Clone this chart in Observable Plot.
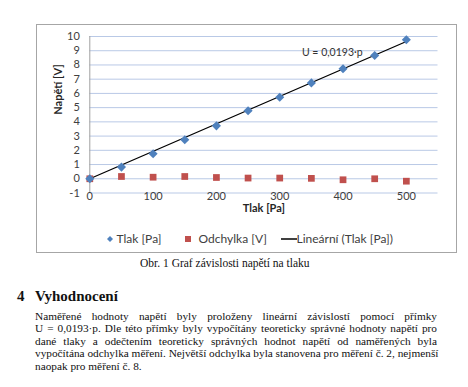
<!DOCTYPE html>
<html>
<head>
<meta charset="utf-8">
<script src="https://cdn.jsdelivr.net/npm/d3@7"></script>
<script src="https://cdn.jsdelivr.net/npm/@observablehq/plot@0.6"></script>
<style>
  html, body { margin: 0; padding: 0; background: #fff; }
  body { width: 468px; height: 387px; position: relative; overflow: hidden; }
  #box { position: absolute; left: 36px; top: 24px; width: 419px; height: 227px; border: 1px solid #a6a6a6; background: #fff; }
  #chart { position: absolute; left: 0; top: 0; }
  #legend { position: absolute; left: 0; top: 206px; width: 419px; height: 16px; font-family: Lato, sans-serif; font-size: 12px; color: #404040; }
  #legend span.t { position: absolute; top: 0; line-height: 16px; white-space: nowrap; }
  #legend svg { position: absolute; top: 0; }
  #caption { position: absolute; left: 140px; top: 257px; font-family: "Liberation Serif", serif; font-size: 11.5px; color: #111; white-space: nowrap; }
  #heading { position: absolute; left: 0; top: 288px; font-family: "Liberation Serif", serif; font-weight: bold; font-size: 15px; color: #111; }
  #para { position: absolute; left: 35px; top: 309.5px; width: 402px; font-family: "Liberation Serif", serif; font-size: 11.3px; line-height: 12.5px; color: #111; }
  #para div { text-align: justify; text-align-last: justify; white-space: nowrap; }
  #para div.last { text-align-last: left; }
</style>
</head>
<body>
<div id="box">
  <div id="chart"></div>
  <div id="legend"></div>
</div>
<div id="caption"></div>
<div id="heading"></div>
<div id="para"></div>
<script>
// ---- data ----
const pressures = [0, 50, 100, 150, 200, 250, 300, 350, 400, 450, 500];
const voltages = [0, 0.82, 1.76, 2.74, 3.72, 4.78, 5.73, 6.74, 7.73, 8.66, 9.77];
const deviations = [0, 0.16, 0.11, 0.16, 0.09, 0.05, 0.05, 0.03, -0.07, 0.0, -0.17];
const slope = 0.0193;
const xTicks = [0, 100, 200, 300, 400, 500];
const yTicks = [-1, 0, 1, 2, 3, 4, 5, 6, 7, 8, 9, 10];
const xTitle = "Tlak [Pa]";
const yTitle = "Napětí [V]";
const equationLabel = "U = 0,0193·p";
const equationAnchor = [383, 8.87];
const seriesNames = ["Tlak [Pa]", "Odchylka [V]", "Lineární (Tlak [Pa])"];
const captionText = "Obr. 1 Graf závislosti napětí na tlaku";
const headingNumber = "4";
const headingText = "Vyhodnocení";
const paragraphLines = [
  "Naměřené hodnoty napětí byly proloženy lineární závislostí pomocí přímky",
  "U = 0,0193·p. Dle této přímky byly vypočítány teoreticky správné hodnoty napětí pro",
  "dané tlaky a odečtením teoreticky správných hodnot napětí od naměřených byla",
  "vypočítána odchylka měření. Největší odchylka byla stanovena pro měření č. 2, nejmenší",
  "naopak pro měření č. 8."
];

const blue = "#4f81bd", red = "#c0504d";
const measured = pressures.map((p, i) => ({p, u: voltages[i]}));
const devs = pressures.map((p, i) => ({p, d: deviations[i]}));
const fitLine = [pressures[0], pressures[pressures.length - 1]].map(p => ({p, u: slope * p}));

const chart = Plot.plot({
  width: 419,
  height: 197,
  marginLeft: 52.3,
  marginRight: 18.5,
  marginTop: 11,
  marginBottom: 29.5,
  style: {fontFamily: "Lato, sans-serif", fontSize: "11px", color: "#404040", background: "white", overflow: "visible"},
  x: {domain: [0, 550]},
  y: {domain: [-1, 10]},
  marks: [
    Plot.gridY(yTicks, {stroke: "#b9c9e6", strokeOpacity: 1, strokeWidth: 1}),
    Plot.ruleX([0], {stroke: "#a0a0a0", strokeWidth: 1}),
    Plot.axisX(xTicks, {anchor: "bottom", tickSize: 0, tickPadding: -1, label: null, fill: "#404040", tickFormat: d => String(d)}),
    Plot.axisY(yTicks, {anchor: "left", tickSize: 0, tickPadding: 10, label: null, fill: "#404040", tickFormat: d => String(d)}),
    Plot.text([xTitle], {frameAnchor: "bottom", dy: 18.5, fontWeight: "bold", fontSize: 11, fill: "#262626"}),
    Plot.text([yTitle], {frameAnchor: "left", rotate: -90, dx: -31.3, fontWeight: "bold", fontSize: 11, fill: "#262626"}),
    Plot.line(fitLine, {x: "p", y: "u", stroke: "black", strokeWidth: 1.3}),
    Plot.dot(devs, {x: "p", y: "d", symbol: "square", r: 3.8, fill: red, stroke: "none"}),
    Plot.dot(measured, {x: "p", y: "u", symbol: "diamond2", r: 4.1, fill: blue, stroke: "none"}),
    Plot.text([equationLabel], {x: () => equationAnchor[0], y: () => equationAnchor[1], fill: "#333", fontSize: 10.5})
  ]
});
document.getElementById("chart").appendChild(chart);

// legend
const legend = document.getElementById("legend");
const legendItems = [
  {marker: "diamond", mx: 72.5, tx: 79.5},
  {marker: "square", mx: 150.5, tx: 161.5},
  {marker: "line", mx: 251.5, tx: 259.5}
];
legendItems.forEach((it, i) => {
  const ns = "http://www.w3.org/2000/svg";
  const s = document.createElementNS(ns, "svg");
  s.setAttribute("width", 20); s.setAttribute("height", 16);
  s.style.left = (it.mx - 10) + "px";
  let el;
  if (it.marker === "diamond") {
    el = document.createElementNS(ns, "path");
    el.setAttribute("d", "M10,5 L13,8 L10,11 L7,8 Z"); el.setAttribute("fill", blue);
  } else if (it.marker === "square") {
    el = document.createElementNS(ns, "rect");
    el.setAttribute("x", 7); el.setAttribute("y", 5); el.setAttribute("width", 6); el.setAttribute("height", 6); el.setAttribute("fill", red);
  } else {
    el = document.createElementNS(ns, "line");
    el.setAttribute("x1", 2); el.setAttribute("x2", 18); el.setAttribute("y1", 8); el.setAttribute("y2", 8);
    el.setAttribute("stroke", "black"); el.setAttribute("stroke-width", 1.5);
  }
  s.appendChild(el);
  legend.appendChild(s);
  const t = document.createElement("span");
  t.className = "t"; t.textContent = seriesNames[i]; t.style.left = it.tx + "px";
  legend.appendChild(t);
});

document.getElementById("caption").textContent = captionText;
const h = document.getElementById("heading");
const hn = document.createElement("span"); hn.textContent = headingNumber; hn.style.position = "absolute"; hn.style.left = "17px";
const ht = document.createElement("span"); ht.textContent = headingText; ht.style.position = "absolute"; ht.style.left = "35px"; ht.style.whiteSpace = "nowrap";
h.appendChild(hn); h.appendChild(ht);
const para = document.getElementById("para");
paragraphLines.forEach((line, i) => {
  const d = document.createElement("div");
  d.textContent = line;
  if (i === paragraphLines.length - 1) d.className = "last";
  para.appendChild(d);
});
</script>
</body>
</html>
